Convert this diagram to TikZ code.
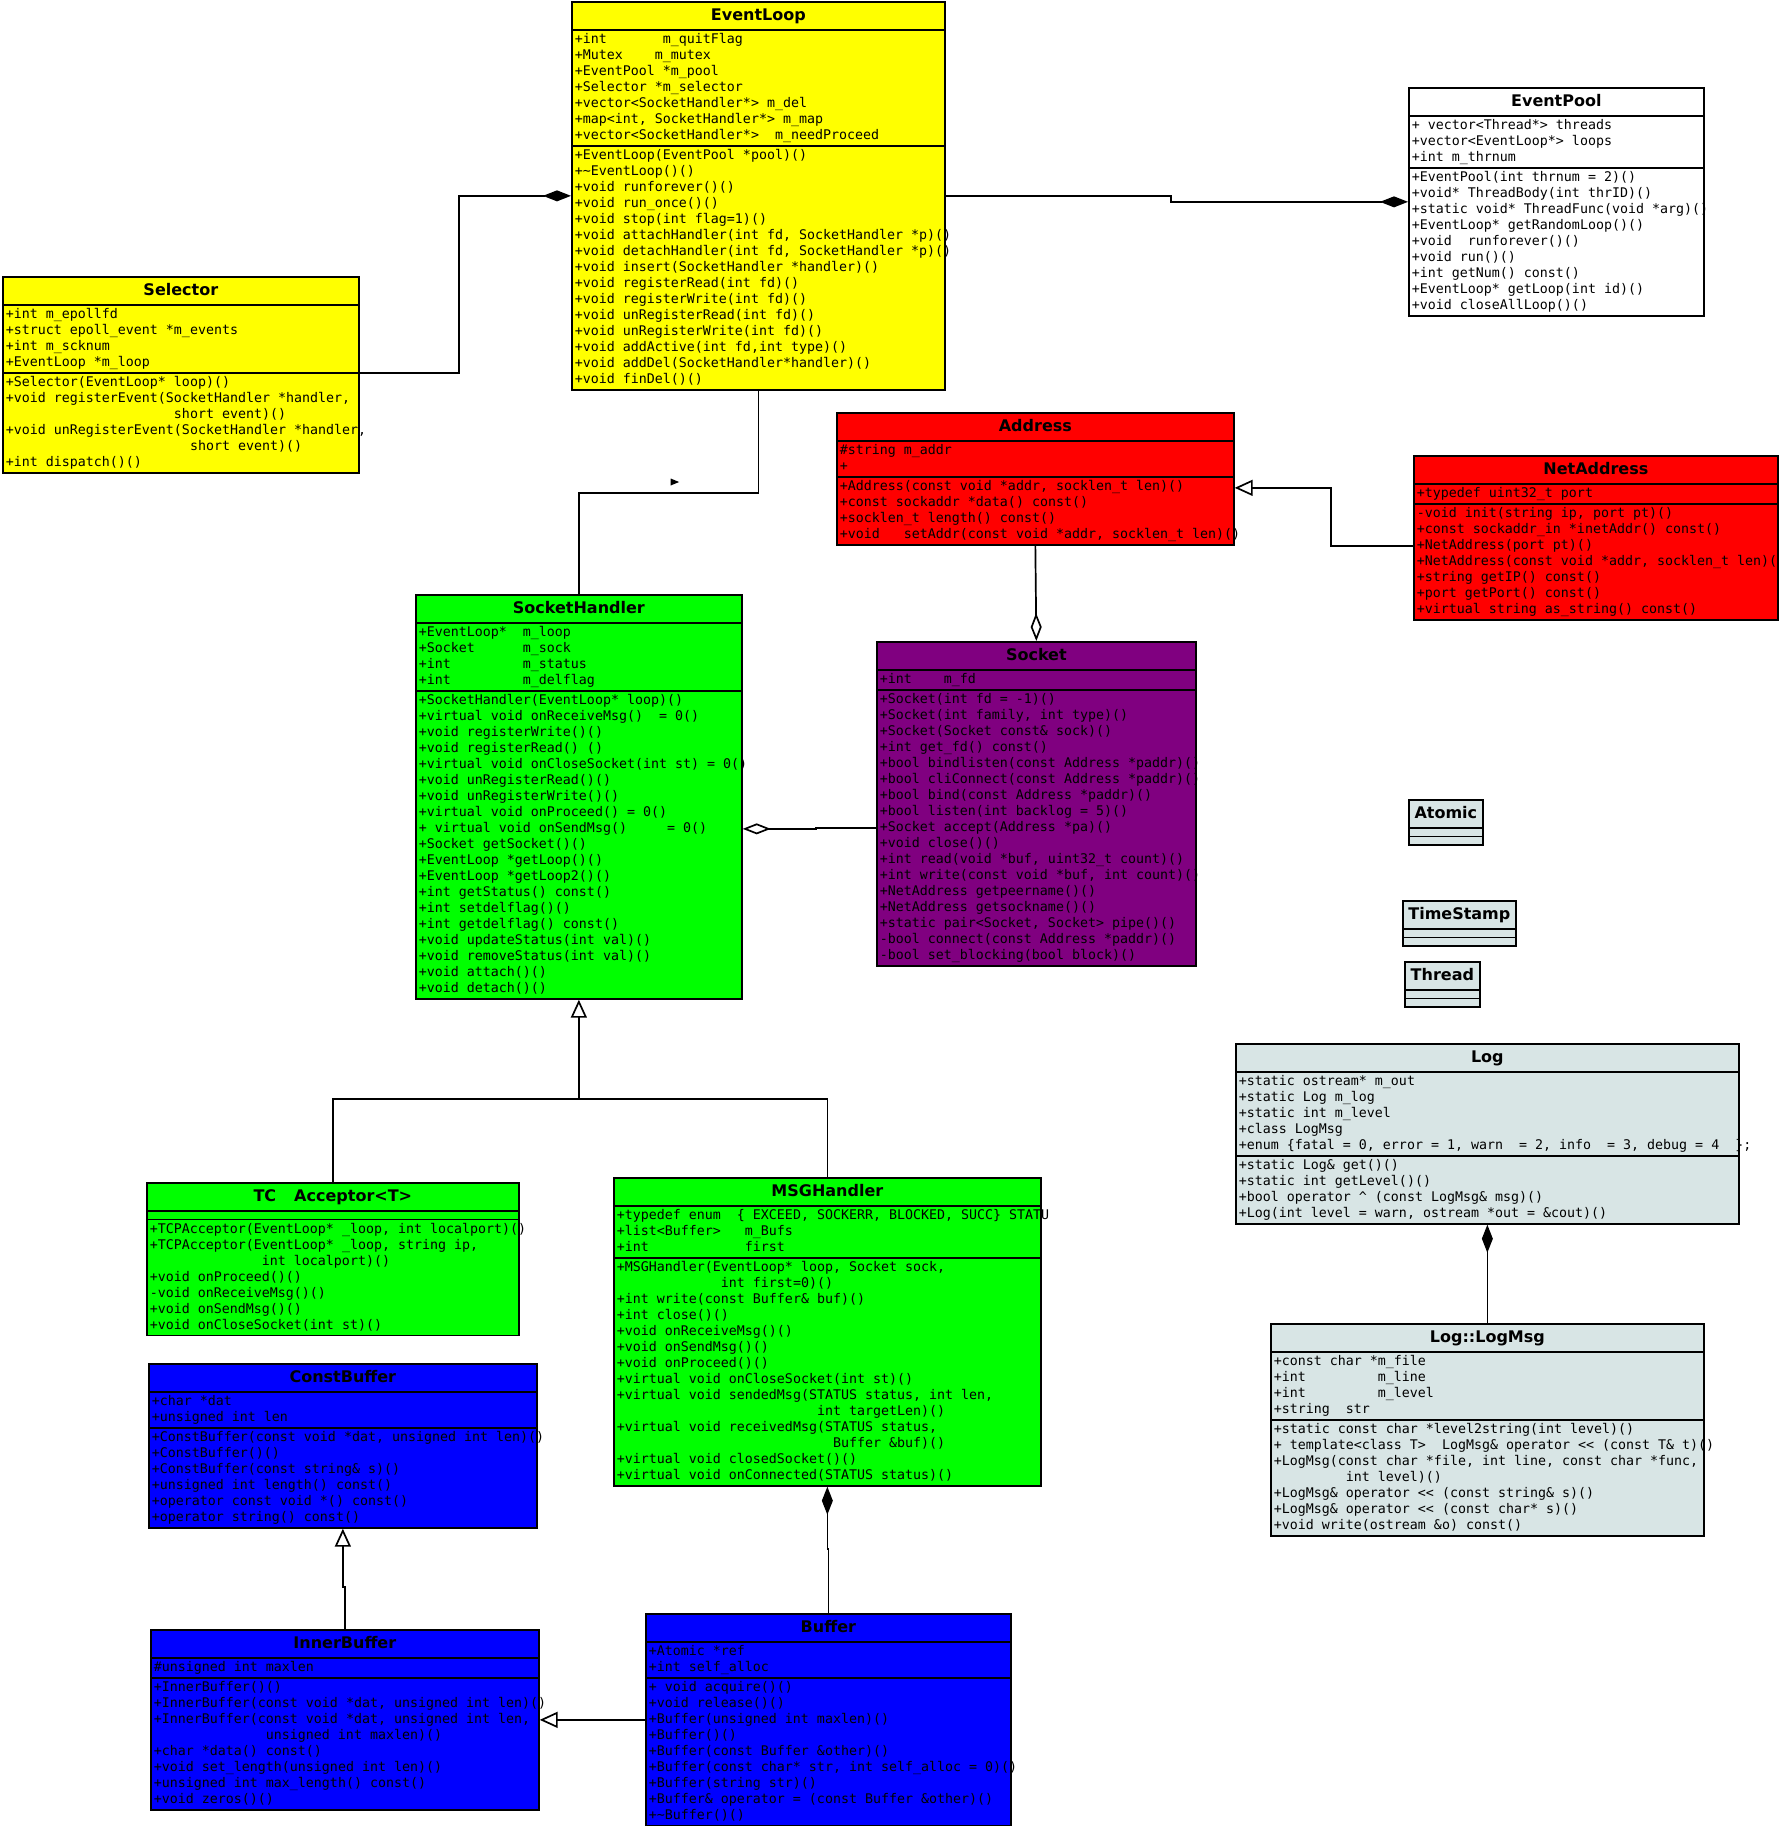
\documentclass[tikz,border=0pt]{standalone}
\usepackage{fontspec}
\setmonofont{DejaVu Sans Mono}
\newfontfamily\titlefont{DejaVu Sans}
\usepackage{xcolor}
\usepackage{tikz}
\usetikzlibrary{arrows.meta, shapes.multipart, shapes.geometric}
\definecolor{umlyellow}{HTML}{FFFF00}
\definecolor{umlred}{HTML}{FF0000}
\definecolor{umlgreen}{HTML}{00FF00}
\definecolor{umlblue}{HTML}{0000FF}
\definecolor{umlpurple}{HTML}{800080}
\definecolor{umlgray}{HTML}{D8E5E5}
\newcommand{\memberfont}{\ttfamily\fontsize{13.3}{16}\selectfont
  \frenchspacing\spaceskip=0.602em\relax\xspaceskip=0.602em\relax}
\newcommand{\mstrut}{\rule[-4pt]{0pt}{16pt}}
\newcommand{\tstrut}{\rule[-7pt]{0pt}{24pt}}
\newcommand{\pad}[1]{\hspace*{\dimexpr 0.602em*#1\relax}}
\newcommand{\mline}[1]{\hbox to\hsize{\mstrut#1\hss}}
\newcommand{\members}[1]{\vbox{\memberfont #1}}
\newcommand{\noattr}{\hbox{\vrule width 0pt height 4.5pt}}
\newcommand{\classtitle}[1]{\hbox to\hsize{\hss\titlefont\bfseries\fontsize{16}{24}\selectfont\tstrut #1\hss}}

\begin{document}
\begin{tikzpicture}[x=1pt, y=-1pt,
    class box/.style={rectangle split, rectangle split parts=3, draw=black,
                      line width=1.7pt, fill=#1, anchor=north west,
                      inner xsep=3pt, inner ysep=1.15pt},
    umlline/.style={line width=1.7pt},
    composition/.style={umlline, -{Diamond[length=28pt, width=11pt]}},
    aggregation/.style={umlline, -{Diamond[fill=white, length=28pt, width=11pt]}},
    generalization/.style={umlline, -{Triangle[fill=white, length=18pt, width=16pt]}},
    dirmark/.style={isosceles triangle, fill=black, inner sep=0pt, minimum size=7pt},
]
    \fill[white] (0,0) rectangle (1778,1826);
    \useasboundingbox (0,0) rectangle (1778,1826);

    % Event loop core
    \node[class box=umlyellow, text width=367pt] (eventloop) at (571,1) {\classtitle{EventLoop}
      \nodepart{two}\members{
        \mline{+int\pad{7}m\_quitFlag}
        \mline{+Mutex\pad{4}m\_mutex}
        \mline{+EventPool *m\_pool}
        \mline{+Selector *m\_selector}
        \mline{+vector<SocketHandler*> m\_del}
        \mline{+map<int, SocketHandler*> m\_map}
        \mline{+vector<SocketHandler*>\pad{2}m\_needProceed}}
      \nodepart{three}\members{
        \mline{+EventLoop(EventPool *pool)()}
        \mline{+\textasciitilde EventLoop()()}
        \mline{+void runforever()()}
        \mline{+void run\_once()()}
        \mline{+void stop(int flag=1)()}
        \mline{+void attachHandler(int fd, SocketHandler *p)()}
        \mline{+void detachHandler(int fd, SocketHandler *p)()}
        \mline{+void insert(SocketHandler *handler)()}
        \mline{+void registerRead(int fd)()}
        \mline{+void registerWrite(int fd)()}
        \mline{+void unRegisterRead(int fd)()}
        \mline{+void unRegisterWrite(int fd)()}
        \mline{+void addActive(int fd,int type)()}
        \mline{+void addDel(SocketHandler*handler)()}
        \mline{+void finDel()()}}};

    \node[class box=white, text width=289pt] (eventpool) at (1408,87) {\classtitle{EventPool}
      \nodepart{two}\members{
        \mline{+ vector<Thread*> threads}
        \mline{+vector<EventLoop*> loops}
        \mline{+int m\_thrnum}}
      \nodepart{three}\members{
        \mline{+EventPool(int thrnum = 2)()}
        \mline{+void* ThreadBody(int thrID)()}
        \mline{+static void* ThreadFunc(void *arg)()}
        \mline{+EventLoop* getRandomLoop()()}
        \mline{+void\pad{2}runforever()()}
        \mline{+void run()()}
        \mline{+int getNum() const()}
        \mline{+EventLoop* getLoop(int id)()}
        \mline{+void closeAllLoop()()}}};

    \node[class box=umlyellow, text width=350pt] (selector) at (2,276) {\classtitle{Selector}
      \nodepart{two}\members{
        \mline{+int m\_epollfd}
        \mline{+struct epoll\_event *m\_events}
        \mline{+int m\_scknum}
        \mline{+EventLoop *m\_loop}}
      \nodepart{three}\members{
        \mline{+Selector(EventLoop* loop)()}
        \mline{+void registerEvent(SocketHandler *handler,}
        \mline{\pad{21}short event)()}
        \mline{+void unRegisterEvent(SocketHandler *handler,}
        \mline{\pad{23}short event)()}
        \mline{+int dispatch()()}}};

    % Addresses and sockets
    \node[class box=umlred, text width=391pt] (address) at (836,412) {\classtitle{Address}
      \nodepart{two}\members{
        \mline{\#string m\_addr}
        \mline{+}}
      \nodepart{three}\members{
        \mline{+Address(const void *addr, socklen\_t len)()}
        \mline{+const sockaddr *data() const()}
        \mline{+socklen\_t length() const()}
        \mline{+void\pad{3}setAddr(const void *addr, socklen\_t len)()}}};

    \node[class box=umlred, text width=358pt] (netaddress) at (1413,455) {\classtitle{NetAddress}
      \nodepart{two}\members{
        \mline{+typedef uint32\_t port}}
      \nodepart{three}\members{
        \mline{-void init(string ip, port pt)()}
        \mline{+const sockaddr\_in *inetAddr() const()}
        \mline{+NetAddress(port pt)()}
        \mline{+NetAddress(const void *addr, socklen\_t len)()}
        \mline{+string getIP() const()}
        \mline{+port getPort() const()}
        \mline{+virtual string as\_string() const()}}};

    \node[class box=umlgreen, text width=320pt] (sockethandler) at (415,594) {\classtitle{SocketHandler}
      \nodepart{two}\members{
        \mline{+EventLoop*\pad{2}m\_loop}
        \mline{+Socket\pad{6}m\_sock}
        \mline{+int\pad{9}m\_status}
        \mline{+int\pad{9}m\_delflag}}
      \nodepart{three}\members{
        \mline{+SocketHandler(EventLoop* loop)()}
        \mline{+virtual void onReceiveMsg()\pad{2}= 0()}
        \mline{+void registerWrite()()}
        \mline{+void registerRead() ()}
        \mline{+virtual void onCloseSocket(int st) = 0()}
        \mline{+void unRegisterRead()()}
        \mline{+void unRegisterWrite()()}
        \mline{+virtual void onProceed() = 0()}
        \mline{+ virtual void onSendMsg()\pad{5}= 0()}
        \mline{+Socket getSocket()()}
        \mline{+EventLoop *getLoop()()}
        \mline{+EventLoop *getLoop2()()}
        \mline{+int getStatus() const()}
        \mline{+int setdelflag()()}
        \mline{+int getdelflag() const()}
        \mline{+void updateStatus(int val)()}
        \mline{+void removeStatus(int val)()}
        \mline{+void attach()()}
        \mline{+void detach()()}}};

    \node[class box=umlpurple, text width=313pt] (socket) at (876,641) {\classtitle{Socket}
      \nodepart{two}\members{
        \mline{+int\pad{4}m\_fd}}
      \nodepart{three}\members{
        \mline{+Socket(int fd = -1)()}
        \mline{+Socket(int family, int type)()}
        \mline{+Socket(Socket const\& sock)()}
        \mline{+int get\_fd() const()}
        \mline{+bool bindlisten(const Address *paddr)()}
        \mline{+bool cliConnect(const Address *paddr)()}
        \mline{+bool bind(const Address *paddr)()}
        \mline{+bool listen(int backlog = 5)()}
        \mline{+Socket accept(Address *pa)()}
        \mline{+void close()()}
        \mline{+int read(void *buf, uint32\_t count)()}
        \mline{+int write(const void *buf, int count)()}
        \mline{+NetAddress getpeername()()}
        \mline{+NetAddress getsockname()()}
        \mline{+static pair<Socket, Socket> pipe()()}
        \mline{-bool connect(const Address *paddr)()}
        \mline{-bool set\_blocking(bool block)()}}};

    % Utility classes
    \node[class box=umlgray, text width=68pt] (atomic) at (1408,799) {\classtitle{Atomic}
      \nodepart{two}\noattr \nodepart{three}\noattr};
    \node[class box=umlgray, text width=107pt] (timestamp) at (1402,900) {\classtitle{TimeStamp}
      \nodepart{two}\noattr \nodepart{three}\noattr};
    \node[class box=umlgray, text width=69pt] (thread) at (1404,961) {\classtitle{Thread}
      \nodepart{two}\noattr \nodepart{three}\noattr};

    \node[class box=umlgray, text width=497pt] (log) at (1235,1043) {\classtitle{Log}
      \nodepart{two}\members{
        \mline{+static ostream* m\_out}
        \mline{+static Log m\_log}
        \mline{+static int m\_level}
        \mline{+class LogMsg}
        \mline{+enum \{fatal = 0, error = 1, warn\pad{2}= 2, info\pad{2}= 3, debug = 4\pad{2}\};}}
      \nodepart{three}\members{
        \mline{+static Log\& get()()}
        \mline{+static int getLevel()()}
        \mline{+bool operator \textasciicircum{} (const LogMsg\& msg)()}
        \mline{+Log(int level = warn, ostream *out = \&cout)()}}};

    \node[class box=umlgray, text width=427pt] (logmsg) at (1270,1323) {\classtitle{Log::LogMsg}
      \nodepart{two}\members{
        \mline{+const char *m\_file}
        \mline{+int\pad{9}m\_line}
        \mline{+int\pad{9}m\_level}
        \mline{+string\pad{2}str}}
      \nodepart{three}\members{
        \mline{+static const char *level2string(int level)()}
        \mline{+ template<class T>\pad{2}LogMsg\& operator << (const T\& t)()}
        \mline{+LogMsg(const char *file, int line, const char *func,}
        \mline{\pad{9}int level)()}
        \mline{+LogMsg\& operator << (const string\& s)()}
        \mline{+LogMsg\& operator << (const char* s)()}
        \mline{+void write(ostream \&o) const()}}};

    % Handlers
    \node[class box=umlgreen, text width=366pt] (tcpacceptor) at (146,1182) {\classtitle{TC\hspace{18pt}Acceptor<T>}
      \nodepart{two}\noattr
      \nodepart{three}\members{
        \mline{+TCPAcceptor(EventLoop* \_loop, int localport)()}
        \mline{+TCPAcceptor(EventLoop* \_loop, string ip,}
        \mline{\pad{14}int localport)()}
        \mline{+void onProceed()()}
        \mline{-void onReceiveMsg()()}
        \mline{+void onSendMsg()()}
        \mline{+void onCloseSocket(int st)()}}};

    \node[class box=umlgreen, text width=421pt] (msghandler) at (613,1177) {\classtitle{MSGHandler}
      \nodepart{two}\members{
        \mline{+typedef enum\pad{2}\{ EXCEED, SOCKERR, BLOCKED, SUCC\} STATU}
        \mline{+list<Buffer>\pad{3}m\_Bufs}
        \mline{+int\pad{12}first}}
      \nodepart{three}\members{
        \mline{+MSGHandler(EventLoop* loop, Socket sock,}
        \mline{\pad{13}int first=0)()}
        \mline{+int write(const Buffer\& buf)()}
        \mline{+int close()()}
        \mline{+void onReceiveMsg()()}
        \mline{+void onSendMsg()()}
        \mline{+void onProceed()()}
        \mline{+virtual void onCloseSocket(int st)()}
        \mline{+virtual void sendedMsg(STATUS status, int len,}
        \mline{\pad{25}int targetLen)()}
        \mline{+virtual void receivedMsg(STATUS status,}
        \mline{\pad{27}Buffer \&buf)()}
        \mline{+virtual void closedSocket()()}
        \mline{+virtual void onConnected(STATUS status)()}}};

    % Buffers
    \node[class box=umlblue, text width=382pt] (constbuffer) at (148,1363) {\classtitle{ConstBuffer}
      \nodepart{two}\members{
        \mline{+char *dat}
        \mline{+unsigned int len}}
      \nodepart{three}\members{
        \mline{+ConstBuffer(const void *dat, unsigned int len)()}
        \mline{+ConstBuffer()()}
        \mline{+ConstBuffer(const string\& s)()}
        \mline{+unsigned int length() const()}
        \mline{+operator const void *() const()}
        \mline{+operator string() const()}}};

    \node[class box=umlblue, text width=382pt] (innerbuffer) at (150,1629) {\classtitle{InnerBuffer}
      \nodepart{two}\members{
        \mline{\#unsigned int maxlen}}
      \nodepart{three}\members{
        \mline{+InnerBuffer()()}
        \mline{+InnerBuffer(const void *dat, unsigned int len)()}
        \mline{+InnerBuffer(const void *dat, unsigned int len,}
        \mline{\pad{14}unsigned int maxlen)()}
        \mline{+char *data() const()}
        \mline{+void set\_length(unsigned int len)()}
        \mline{+unsigned int max\_length() const()}
        \mline{+void zeros()()}}};

    \node[class box=umlblue, text width=359pt] (buffer) at (645,1613) {\classtitle{Buffer}
      \nodepart{two}\members{
        \mline{+Atomic *ref}
        \mline{+int self\_alloc}}
      \nodepart{three}\members{
        \mline{+ void acquire()()}
        \mline{+void release()()}
        \mline{+Buffer(unsigned int maxlen)()}
        \mline{+Buffer()()}
        \mline{+Buffer(const Buffer \&other)()}
        \mline{+Buffer(const char* str, int self\_alloc = 0)()}
        \mline{+Buffer(string str)()}
        \mline{+Buffer\& operator = (const Buffer \&other)()}
        \mline{+\textasciitilde Buffer()()}}};

    % Connectors
    \draw[composition] (selector.two split east) -- ++(99,0) |- (eventloop.west);
    \draw[composition] (eventloop.east) -- ++(225,0) |- (eventpool.west);
    \draw[umlline] (eventloop.south) -- ++(0,102) -| (sockethandler.north);
    \node[dirmark] (navmark) at (673,482) {};
    \draw[aggregation] (address.south) -- (socket.north);
    \draw[generalization] ([yshift=-8pt]netaddress.west) -- ++(-82,0) |- ([yshift=-9pt]address.east);
    \draw[aggregation] ([yshift=-24pt]socket.west) -- ++(-60,0) |- ([yshift=-32pt]sockethandler.east);

    \coordinate (shjoin) at ([yshift=-99pt]sockethandler.south);
    \draw[generalization] (tcpacceptor.north) |- (shjoin) -- (sockethandler.south);
    \draw[umlline] (msghandler.north) |- (shjoin);

    \draw[generalization] (innerbuffer.north) -- ++(0,-42) -| (constbuffer.south);
    \draw[generalization] (buffer.west) -- (innerbuffer.east);
    \draw[composition] (buffer.north) -- ++(0,-64) -| (msghandler.south);
    \draw[composition] (logmsg.north) -- (log.south);
\end{tikzpicture}
\end{document}
